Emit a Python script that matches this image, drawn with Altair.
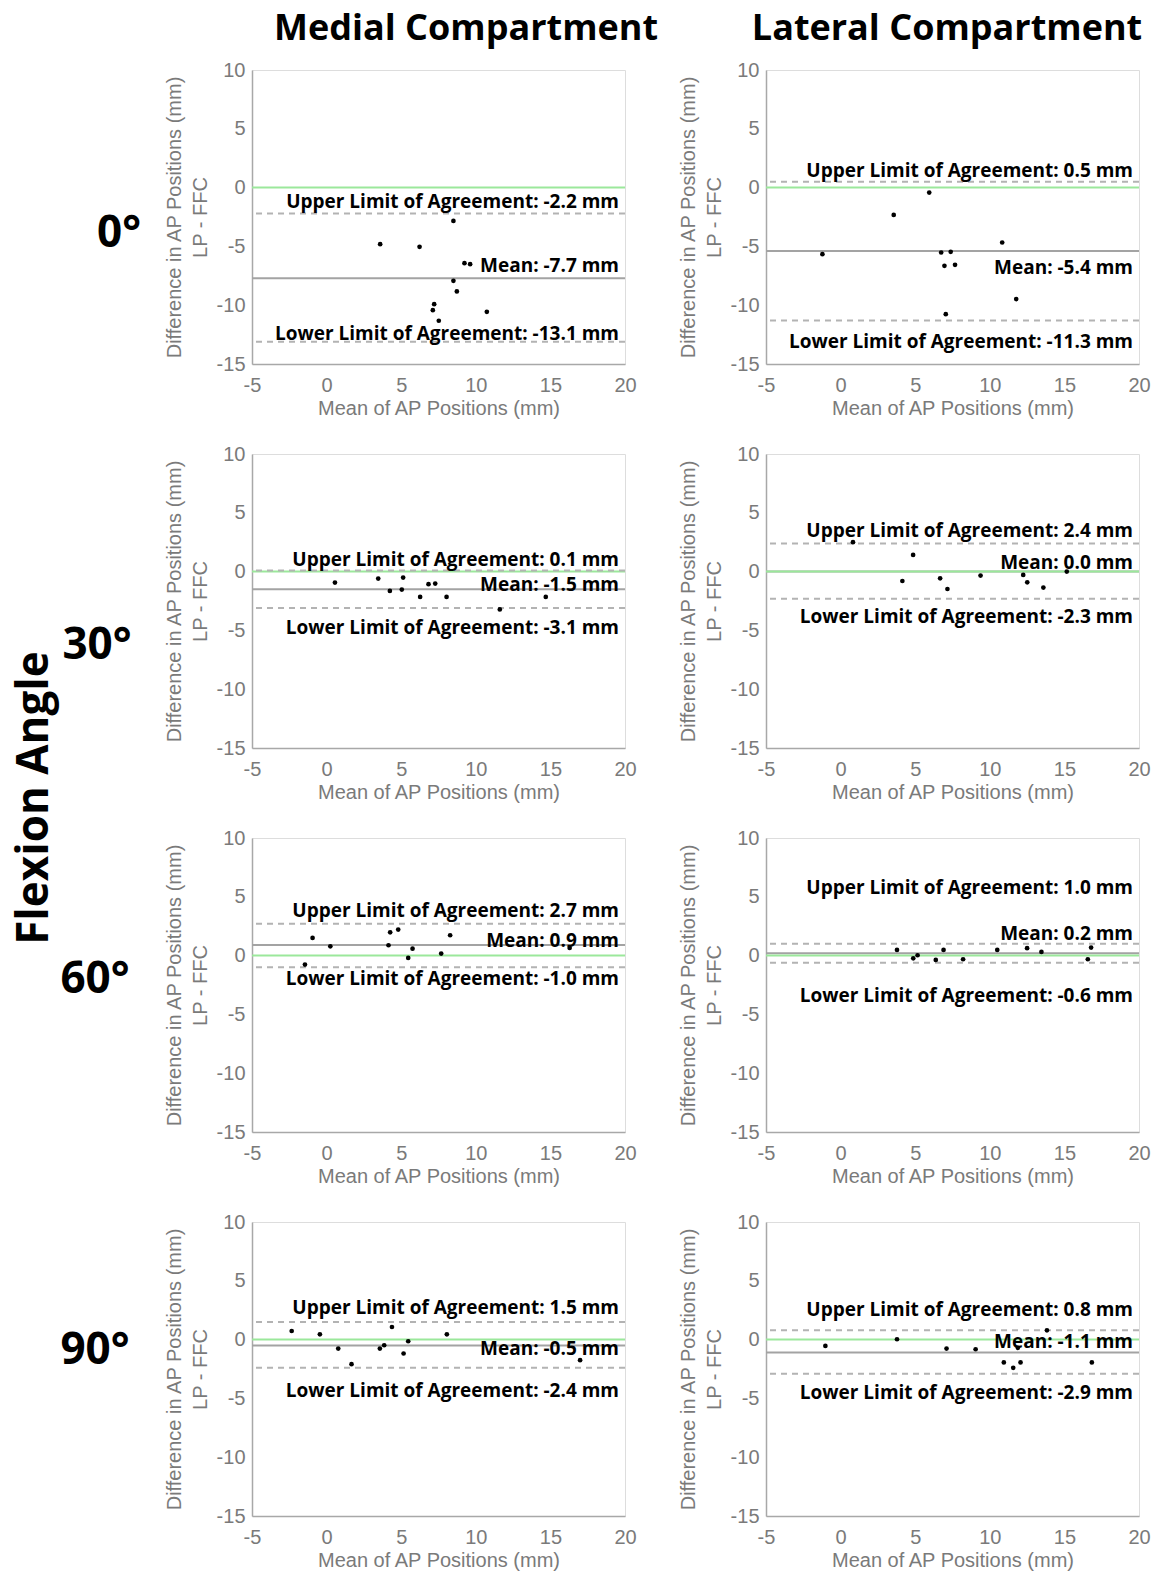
import altair as alt
import pandas as pd

# ---------------- data ----------------
x_domain = [-5, 20]
y_domain = [-15, 10]
x_ticks = [-5, 0, 5, 10, 15, 20]
y_ticks = [-15, -10, -5, 0, 5, 10]

column_titles = ["Medial Compartment", "Lateral Compartment"]
row_titles = ["0°", "30°", "60°", "90°"]
side_title = "Flexion Angle"

# Medial 0°
med0_x = [3.59, 6.23, 8.50, 9.24, 9.62, 8.50, 8.73, 7.21, 7.12, 7.52, 10.74]
med0_y = [-4.81, -5.04, -2.83, -6.43, -6.51, -7.93, -8.83, -9.91, -10.42, -11.32, -10.56]
# Lateral 0°
lat0_x = [-1.22, 3.56, 5.94, 6.74, 7.38, 6.96, 7.67, 10.83, 11.77, 7.05]
lat0_y = [-5.66, -2.32, -0.42, -5.52, -5.46, -6.65, -6.57, -4.67, -9.48, -10.76]
# Medial 30°
med30_x = [0.56, 3.46, 4.24, 5.04, 5.13, 6.27, 6.83, 7.28, 8.04, 11.61, 14.69]
med30_y = [-0.93, -0.59, -1.64, -1.53, -0.51, -2.15, -1.07, -1.02, -2.15, -3.22, -2.15]
# Lateral 30°
lat30_x = [0.83, 4.86, 4.14, 6.67, 7.16, 9.38, 12.24, 12.51, 13.59, 15.16]
lat30_y = [2.50, 1.42, -0.80, -0.57, -1.48, -0.34, -0.28, -0.91, -1.36, 0.00]
# Medial 60°
med60_x = [-1.45, -0.94, 0.25, 4.15, 4.26, 4.80, 5.47, 5.76, 7.68, 8.28, 16.29]
med60_y = [-0.76, 1.50, 0.79, 0.88, 1.98, 2.21, -0.20, 0.59, 0.17, 1.73, 0.65]
# Lateral 60°
lat60_x = [3.78, 4.87, 5.16, 6.38, 6.90, 8.21, 10.50, 12.50, 13.46, 16.57, 16.79]
lat60_y = [0.48, -0.23, 0.03, -0.37, 0.48, -0.31, 0.48, 0.63, 0.31, -0.31, 0.68]
# Medial 90°
med90_x = [-2.34, -0.45, 0.78, 1.67, 3.57, 3.86, 4.38, 5.16, 5.47, 8.06, 16.99]
med90_y = [0.73, 0.45, -0.76, -2.09, -0.76, -0.48, 1.07, -1.18, -0.14, 0.45, -1.75]
# Lateral 90°
lat90_x = [-1.02, 3.78, 7.10, 9.05, 10.94, 11.57, 12.06, 11.88, 13.83, 16.84]
lat90_y = [-0.54, 0.03, -0.76, -0.82, -1.94, -2.40, -1.94, -0.70, 0.79, -1.94]

# limits of agreement: [upper, mean, lower] per panel
stats = {
    "med0": [-2.2, -7.7, -13.1],
    "lat0": [0.5, -5.4, -11.3],
    "med30": [0.1, -1.5, -3.1],
    "lat30": [2.4, 0.0, -2.3],
    "med60": [2.7, 0.9, -1.0],
    "lat60": [1.0, 0.2, -0.6],
    "med90": [1.5, -0.5, -2.4],
    "lat90": [0.8, -1.1, -2.9],
}

points = {
    "med0": (med0_x, med0_y), "lat0": (lat0_x, lat0_y),
    "med30": (med30_x, med30_y), "lat30": (lat30_x, lat30_y),
    "med60": (med60_x, med60_y), "lat60": (lat60_x, lat60_y),
    "med90": (med90_x, med90_y), "lat90": (lat90_x, lat90_y),
}

# ---------------- layout / styling ----------------
# where the annotation texts sit (data units, y of text centre): [upper, mean, lower]
label_y = {
    "med0": [-1.19, -6.65, -12.46],
    "lat0": [1.42, -6.80, -13.17],
    "med30": [0.96, -1.16, -4.83],
    "lat30": [3.47, 0.71, -3.89],
    "med60": [3.77, 1.22, -1.98],
    "lat60": [5.76, 1.82, -3.45],
    "med90": [2.68, -0.76, -4.37],
    "lat90": [2.54, -0.20, -4.57],
}

W, H = 373, 294
AXIS_FONT = "Liberation Sans"
BOLD_FONT = "Open Sans"
GRAY_TXT = "#7a7a7a"
GREEN = "#9be89b"
MEAN_GRAY = "#a3a3a3"
LIM_GRAY = "#b3b3b3"

xscale = alt.Scale(domain=x_domain, nice=False, zero=False)
yscale = alt.Scale(domain=y_domain, nice=False, zero=False)

xaxis = alt.Axis(values=x_ticks, grid=False, ticks=False, domainColor="#a8a8a8", domainWidth=1.5,
                 labelColor=GRAY_TXT, labelFont=AXIS_FONT, labelFontSize=20, labelPadding=11,
                 labelFlush=False, labelOverlap=False, labelExpr="'' + datum.value",
                 title="Mean of AP Positions (mm)", titleColor=GRAY_TXT, titleFont=AXIS_FONT,
                 titleFontSize=20, titleFontWeight="normal", titlePadding=3)
yaxis = alt.Axis(values=y_ticks, grid=False, ticks=False, domainColor="#a8a8a8", domainWidth=1.5,
                 labelColor=GRAY_TXT, labelFont=AXIS_FONT, labelFontSize=20, labelPadding=7,
                 labelFlush=False, labelOverlap=False, labelExpr="'' + datum.value",
                 title=["Difference in AP Positions (mm)", "LP - FFC"], titleColor=GRAY_TXT,
                 titleFont=AXIS_FONT, titleFontSize=20, titleFontWeight="normal",
                 titlePadding=6, titleLineHeight=26)


def free_text(txt, x, y, size, angle=0, align="center"):
    return alt.Chart(pd.DataFrame({"t": [txt]})).mark_text(
        font=BOLD_FONT, fontWeight="bold", fontSize=size, color="black", align=align,
        baseline="alphabetic", angle=angle).encode(x=alt.value(x), y=alt.value(y), text="t:N")


def panel(key, extra_texts=None):
    px, py = points[key]
    up, mn, lo = stats[key]
    ly = label_y[key]
    pts = pd.DataFrame({"x": px, "y": py})

    mean_df = pd.DataFrame({"v": [mn]})
    zero_df = pd.DataFrame({"v": [0.0]})
    lim_df = pd.DataFrame({"v": [up, lo]})
    txt_df = pd.DataFrame({
        "t": [f"Upper Limit of Agreement: {up:.1f} mm", f"Mean: {mn:.1f} mm",
              f"Lower Limit of Agreement: {lo:.1f} mm"],
        "ty": ly,
    })

    base_pts = alt.Chart(pts).mark_circle(size=22, color="black", opacity=1).encode(
        x=alt.X("x:Q", scale=xscale, axis=xaxis),
        y=alt.Y("y:Q", scale=yscale, axis=yaxis),
    )
    mean_rule = alt.Chart(mean_df).mark_rule(color=MEAN_GRAY, strokeWidth=2).encode(
        y=alt.Y("v:Q", scale=yscale))
    zero_rule = alt.Chart(zero_df).mark_rule(color=GREEN, strokeWidth=2).encode(
        y=alt.Y("v:Q", scale=yscale))
    lim_rule = alt.Chart(lim_df).mark_rule(color=LIM_GRAY, strokeWidth=2, strokeDash=[6, 5]).encode(
        y=alt.Y("v:Q", scale=yscale))
    texts = alt.Chart(txt_df).mark_text(align="right", baseline="middle", font=BOLD_FONT,
                                        fontWeight="bold", fontSize=19, color="black").encode(
        x=alt.value(W - 6), y=alt.Y("ty:Q", scale=yscale), text="t:N")

    layers = [mean_rule, zero_rule, lim_rule, base_pts, texts]
    if extra_texts:
        layers.extend(extra_texts)
    return alt.layer(*layers).properties(width=W, height=H)


row_label_pos = [(-133, 177), (-155, 205), (-157, 155), (-157, 142)]
keys = [("med0", "lat0"), ("med30", "lat30"), ("med60", "lat60"), ("med90", "lat90")]

panels = []
for i, (lk, rk) in enumerate(keys):
    lx, lyp = row_label_pos[i]
    left_extra = [free_text(row_titles[i], lx, lyp, 44)]
    right_extra = []
    if i == 0:
        left_extra.append(free_text(column_titles[0], 214, -30, 36))
        right_extra.append(free_text(column_titles[1], 181, -30, 36))
    if i == 1:
        left_extra.append(free_text(side_title, -204, 344, 44, angle=270))
    panels.append(panel(lk, left_extra))
    panels.append(panel(rk, right_extra))

chart = alt.concat(*panels, columns=2, spacing={"row": 90, "column": 141}, bounds="flush").properties(
    padding={"left": 12, "top": 10, "right": 0, "bottom": 0}
).configure_view(stroke=None).configure(background="white")

chart.save("out.html", embed_options={"renderer": "svg", "actions": False})
